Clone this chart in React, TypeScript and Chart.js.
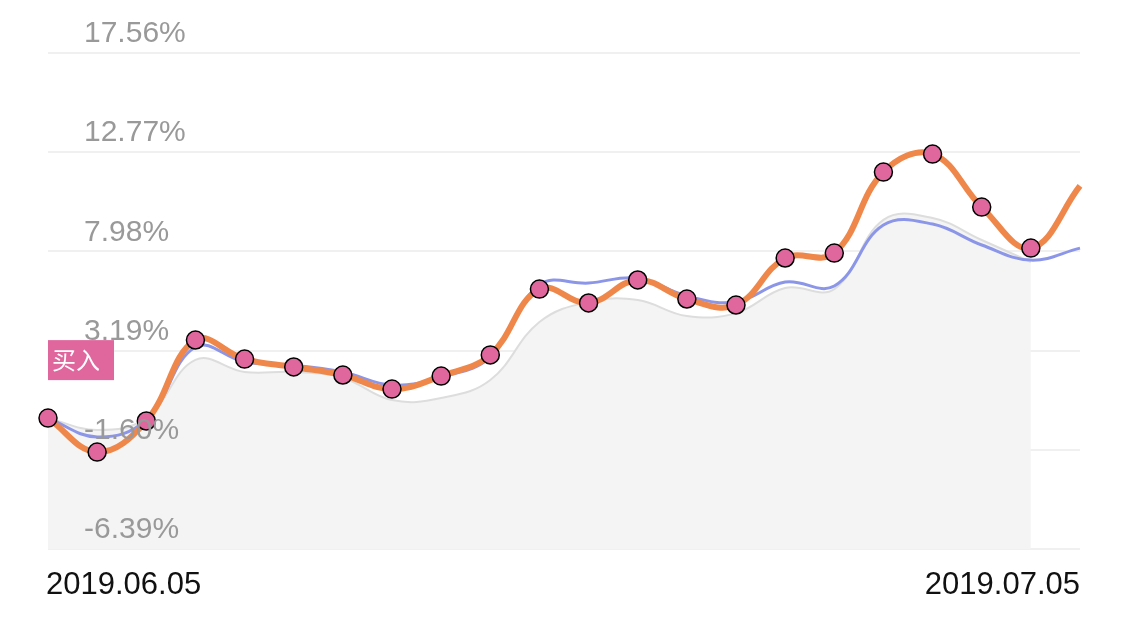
import React, { useEffect, useRef } from "react";
import { Chart, registerables } from "chart.js";
Chart.register(...registerables);

const categories = Array.from({ length: 22 }, (_, i) => String(i));
const orange = [-0.07, -1.71, -0.21, 3.7, 2.78, 2.4, 2.01, 1.33, 1.96, 2.98, 6.16, 5.49, 6.6, 5.68, 5.39, 7.66, 7.9, 11.81, 12.68, 10.12, 8.14, 11.14];
const blue = [-0.07, -0.98, -0.16, 3.36, 2.64, 2.49, 2.16, 1.53, 1.91, 2.88, 6.36, 6.45, 6.69, 5.83, 5.54, 6.5, 6.31, 9.25, 9.3, 8.29, 7.56, 8.14];
const gray = [-0.07, -0.64, -0.07, 2.74, 2.16, 2.16, 1.87, 0.8, 0.9, 1.77, 4.57, 5.54, 5.63, 4.86, 5.0, 6.21, 6.16, 9.5, 9.59, 8.53, 7.47, null];
const yTicks = [-6.39, -1.6, 3.19, 7.98, 12.77, 17.56];
const dateLabels = ["2019.06.05", "2019.07.05"];
const buyLabel = "买入";

export default function App() {
  const ref = useRef<HTMLCanvasElement>(null);
  useEffect(() => {
    document.body.style.margin = "0";
    const overlay = {
      id: "overlay",
      afterDatasetsDraw(chart: any) {
        const { ctx, chartArea, scales } = chart;
        ctx.save();
        ctx.font = "30px 'Liberation Sans', Arial, sans-serif";
        ctx.fillStyle = "#999";
        ctx.textBaseline = "bottom";
        ctx.textAlign = "left";
        yTicks.forEach((v) => {
          const y = scales.y.getPixelForValue(v);
          ctx.fillText(v.toFixed(2) + "%", 84, y - 4);
        });
        ctx.fillStyle = "#111";
        ctx.textBaseline = "middle";
        ctx.font = "31px 'Liberation Sans', Arial, sans-serif";
        ctx.fillText(dateLabels[0], 46, 585);
        ctx.textAlign = "right";
        ctx.fillText(dateLabels[1], chartArea.right, 585);
        const p0 = chart.getDatasetMeta(0).data[0];
        const by = p0.y - 58;
        ctx.fillStyle = "#e0679e";
        ctx.fillRect(chartArea.left, by - 20, 66, 40);
        ctx.fillStyle = "#fff";
        ctx.textAlign = "left";
        ctx.font = "24px 'Noto Sans CJK SC', sans-serif";
        ctx.fillText(buyLabel, chartArea.left + 4, by);
        ctx.restore();
      },
    };
    const chart = new Chart(ref.current!, {
      type: "line",
      data: {
        labels: categories,
        datasets: [
          {
            data: orange, order: 1, borderColor: "#f0874a", borderWidth: 6, tension: 0.4, fill: false,
            pointRadius: orange.map((_, i) => (i < 21 ? 9 : 0)),
            pointBackgroundColor: "#e0679e", pointBorderColor: "#000", pointBorderWidth: 1.5,
          },
          { data: blue, order: 2, borderColor: "#8c96e8", borderWidth: 3, pointRadius: 0, tension: 0.4, fill: false },
          { data: gray, order: 3, borderColor: "#dddddd", borderWidth: 2, backgroundColor: "#f4f4f4", fill: "start", pointRadius: 0, tension: 0.4 },
        ],
      },
      options: {
        animation: false,
        responsive: false,
        layout: { padding: { left: 48, right: 45, top: 53, bottom: 69 } },
        plugins: { legend: { display: false }, tooltip: { enabled: false } },
        scales: {
          x: { display: false, offset: false },
          y: {
            min: -6.39, max: 17.56,
            afterBuildTicks: (s: any) => { s.ticks = yTicks.map((v) => ({ value: v })); },
            ticks: { display: false },
            border: { display: false },
            grid: { color: "#f0f0f0", lineWidth: 2, drawTicks: false },
          },
        },
      },
      plugins: [overlay],
    });
    return () => chart.destroy();
  }, []);
  return (
    <div style={{ position: "fixed", left: 0, top: 0, width: 1125, height: 618, background: "#fff" }}>
      <canvas ref={ref} width={1125} height={618} style={{ width: 1125, height: 618 }} />
    </div>
  );
}
